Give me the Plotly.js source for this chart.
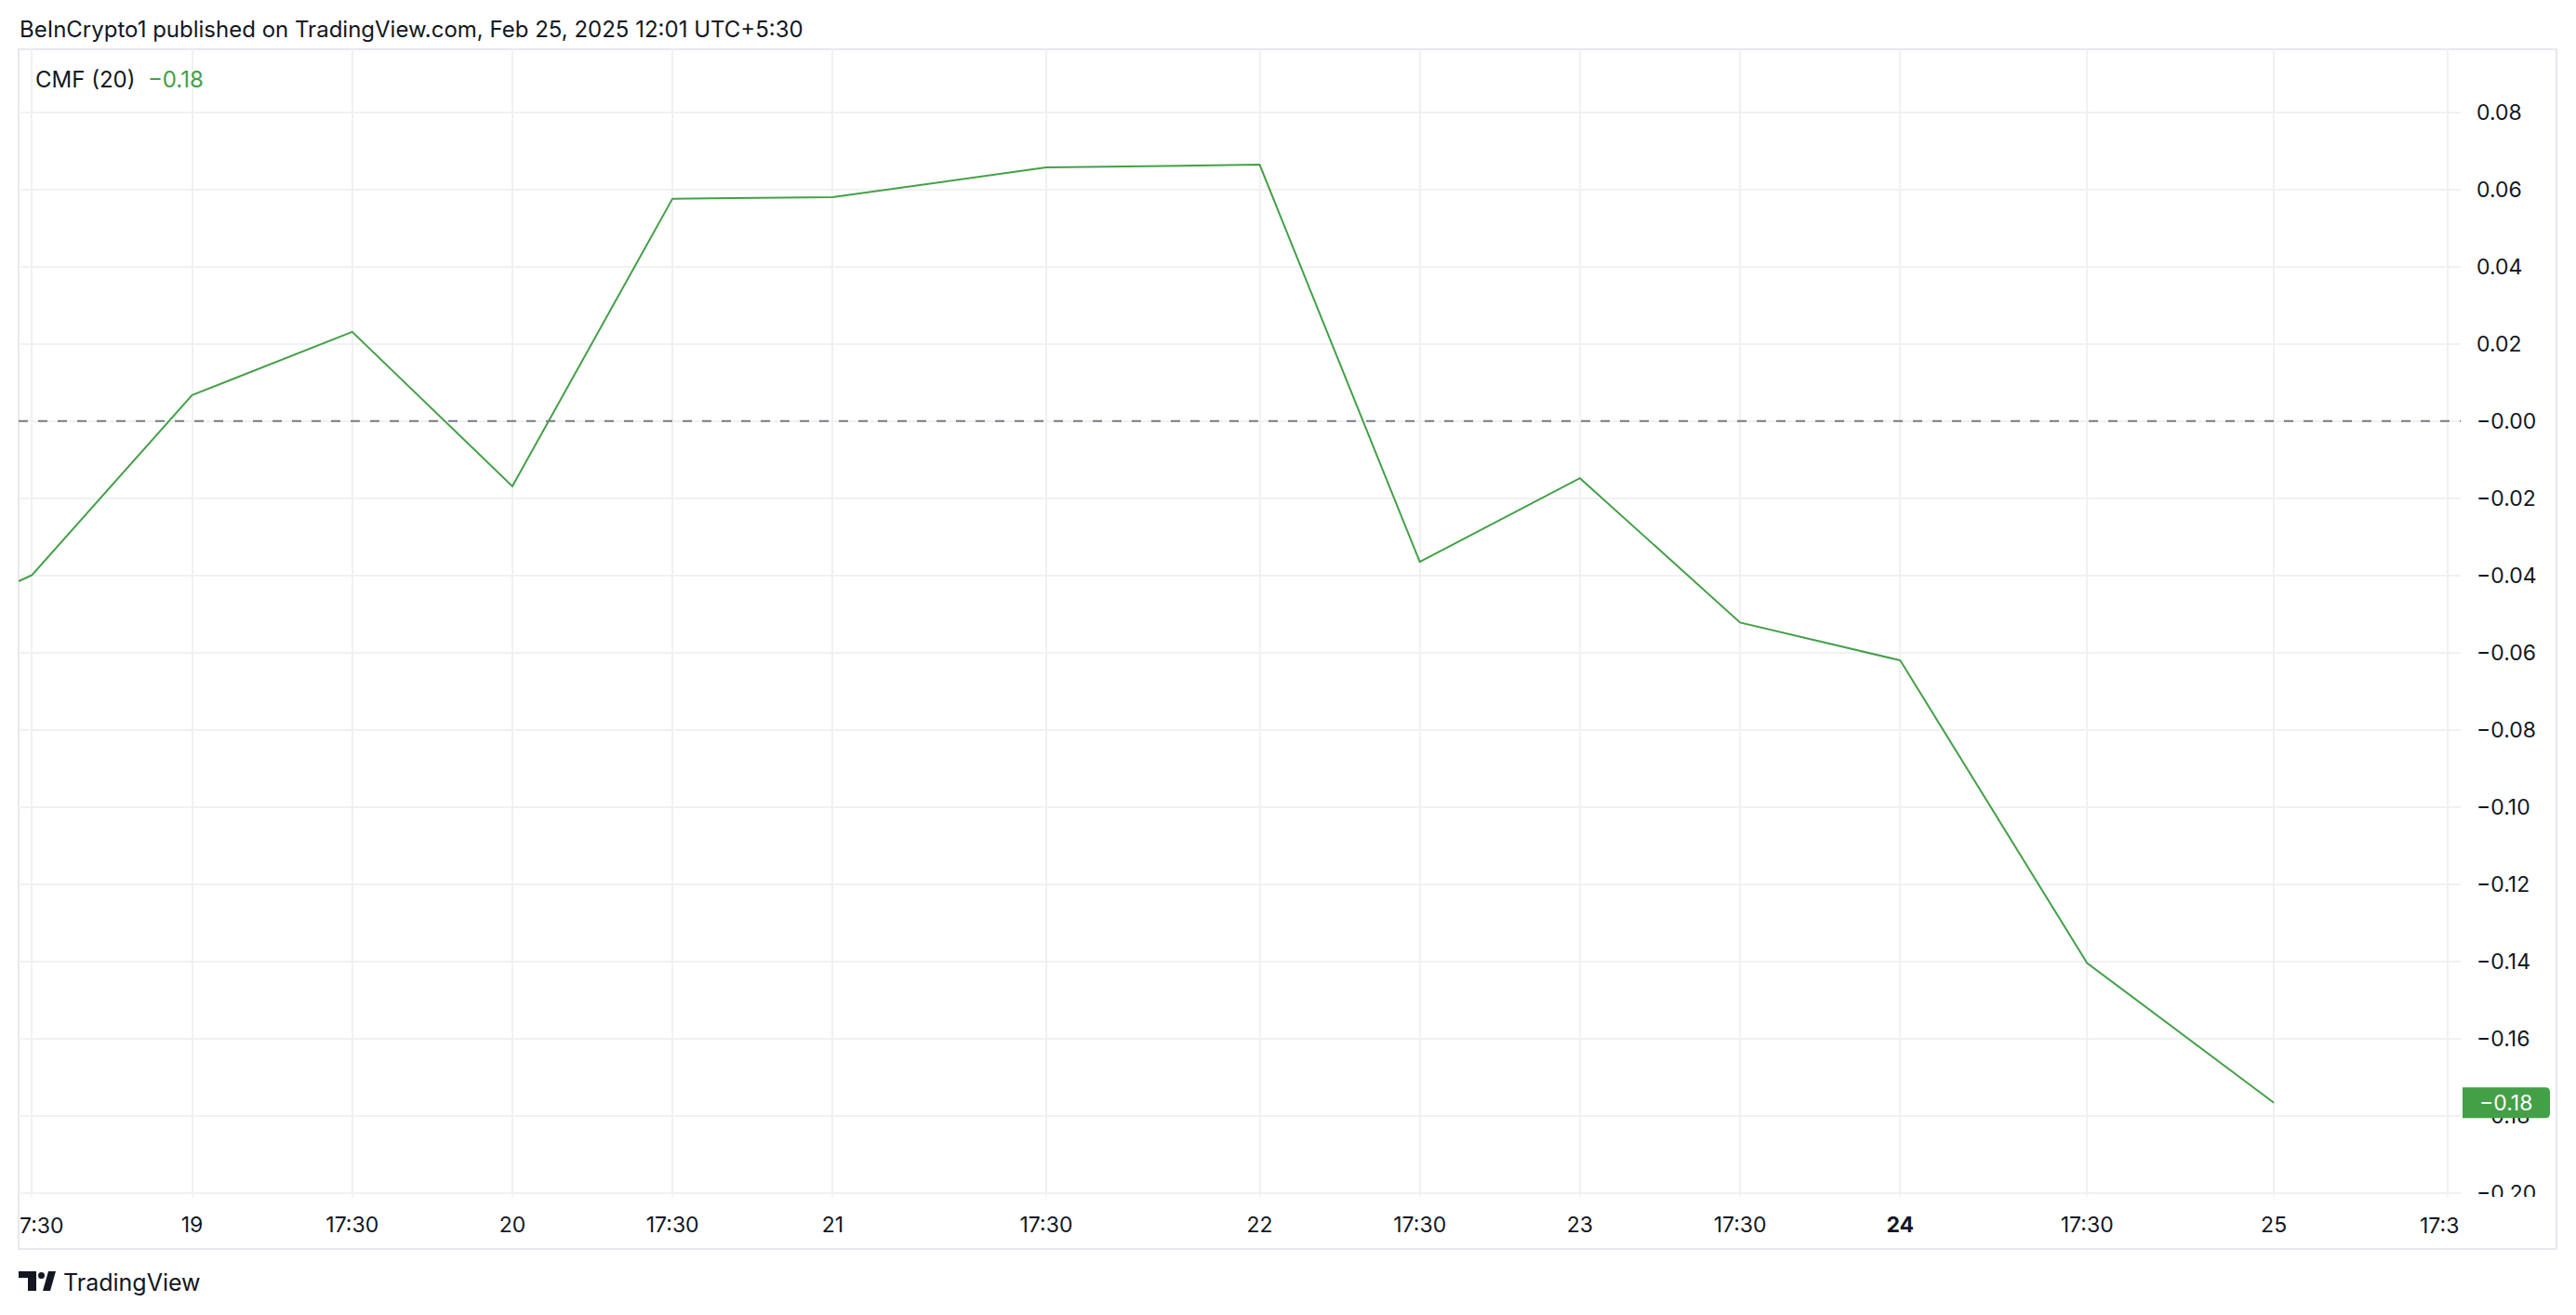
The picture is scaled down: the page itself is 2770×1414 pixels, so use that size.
<!DOCTYPE html>
<html>
<head>
<meta charset="utf-8">
<script src="https://cdn.plot.ly/plotly-3.0.1.min.js"></script>
<style>
html,body{margin:0;padding:0;background:#ffffff;}
#chart{width:2770px;height:1414px;}
</style>
</head>
<body>
<div id="chart"></div>
<script>
// ---- data ----
const barIndex = [-13, -12, 0, 12, 24, 36, 48, 64, 80, 92, 104, 116, 128, 142, 156];
const cmfValues = [-0.0415, -0.0399, 0.0067, 0.0231, -0.0169, 0.0576, 0.0580, 0.0657, 0.0664, -0.0365, -0.0148, -0.0522, -0.0620, -0.1404, -0.1766];

const xTickVals = [-12, 0, 12, 24, 36, 48, 64, 80, 92, 104, 116, 128, 142, 156, 169];
const xTickText = ["", "19", "17:30", "20", "17:30", "21", "17:30", "22", "17:30", "23", "17:30", "<b>24</b>", "17:30", "25", ""];
const xLeftEdgeLabel = "7:30";
const xRightEdgeLabel = "17:3";

const yTickVals = [0.08, 0.06, 0.04, 0.02, 0.00, -0.02, -0.04, -0.06, -0.08, -0.10, -0.12, -0.14, -0.16, -0.18, -0.20];
const yTickText = ["0.08", "0.06", "0.04", "0.02", "\u22120.00", "\u22120.02", "\u22120.04", "\u22120.06", "\u22120.08", "\u22120.10", "\u22120.12", "\u22120.14", "\u22120.16", "\u22120.18", "\u22120.20"];

const headerText = "BeInCrypto1 published on TradingView.com, Feb 25, 2025 12:01 UTC+5:30";
const indicatorName = "CMF (20)";
const brandText = "TradingView";

// ---- styling / layout helpers ----
const FONT = "Inter, 'Noto Sans', 'DejaVu Sans', sans-serif";
const TEXT = "#131722";
const GREEN = "#43a047";
const W = 2770, H = 1414;
const L = 20, R = 2646, T = 53, B = 1287;
const px = x => (x - L) / (R - L);
const py = y => (B - y) / (B - T);

const lastVal = cmfValues[cmfValues.length - 1];
const lastText = lastVal.toFixed(2).replace("-", "\u2212");

const trace = {
  x: barIndex,
  y: cmfValues,
  type: "scatter",
  mode: "lines",
  line: {color: GREEN, width: 2},
  hoverinfo: "skip",
  showlegend: false
};

// badge with rounded right corners
const bx0 = px(2648), bx1 = px(2742);
const bh = 0.00398;
const rx = 5 / (R - L), ry = 5 / 4150;
const by0 = lastVal - bh, by1 = lastVal + bh;
const badgePath = `M ${bx0},${by0} L ${bx1 - rx},${by0} Q ${bx1},${by0} ${bx1},${by0 + ry} L ${bx1},${by1 - ry} Q ${bx1},${by1} ${bx1 - rx},${by1} L ${bx0},${by1} Z`;

const shapes = [
  // outer frame
  {type: "rect", xref: "paper", yref: "paper", x0: px(20), x1: px(2749), y0: py(1343), y1: py(53),
   line: {color: "#e6e8ee", width: 2}, fillcolor: "rgba(0,0,0,0)", layer: "below"},
  // zero reference line
  {type: "line", xref: "paper", yref: "y", x0: 0, x1: 1, y0: 0, y1: 0,
   line: {color: "#787b86", width: 2, dash: "10px,11px"}, layer: "above"},
  // mask clipped bottom axis label
  {type: "rect", xref: "paper", yref: "paper", x0: px(2650), x1: px(2746), y0: py(1300), y1: 0,
   line: {width: 0}, fillcolor: "#ffffff", layer: "above"},
  // last value badge
  {type: "path", xref: "paper", yref: "y", path: badgePath, line: {width: 0}, fillcolor: GREEN, layer: "above"},
  // TradingView logo (approximation)
  {type: "rect", xref: "paper", yref: "paper", x0: px(20), x1: px(39), y0: py(1374), y1: py(1367), line: {width: 0}, fillcolor: "#131722", layer: "above"},
  {type: "rect", xref: "paper", yref: "paper", x0: px(30), x1: px(39), y0: py(1388), y1: py(1367), line: {width: 0}, fillcolor: "#131722", layer: "above"},
  {type: "circle", xref: "paper", yref: "paper", x0: px(41), x1: px(48), y0: py(1375), y1: py(1368), line: {width: 0}, fillcolor: "#131722", layer: "above"},
  {type: "path", xref: "paper", yref: "paper",
   path: `M ${px(46)},${py(1388)} L ${px(54)},${py(1388)} L ${px(60)},${py(1367)} L ${px(52)},${py(1367)} Z`,
   line: {width: 0}, fillcolor: "#131722", layer: "above"}
];

const annotations = [
  {xref: "paper", yref: "paper", x: px(19), y: py(31), xanchor: "left", yanchor: "middle",
   text: headerText, showarrow: false, font: {family: FONT, size: 24, color: TEXT}},
  {xref: "paper", yref: "paper", x: px(36), y: py(86), xanchor: "left", yanchor: "middle",
   text: indicatorName + "  <span style='color:" + GREEN + "'>" + lastText + "</span>",
   showarrow: false, font: {family: FONT, size: 24, color: TEXT}},
  {xref: "paper", yref: "y", x: px(2664), y: lastVal, xanchor: "left", yanchor: "middle",
   text: lastText, showarrow: false, font: {family: FONT, size: 23, color: "#ffffff"}},
  {xref: "paper", yref: "paper", x: px(19), y: py(1318), xanchor: "left", yanchor: "middle",
   text: xLeftEdgeLabel, showarrow: false, font: {family: FONT, size: 23, color: TEXT}},
  {xref: "paper", yref: "paper", x: 1, y: py(1318), xanchor: "right", yanchor: "middle",
   text: xRightEdgeLabel, showarrow: false, font: {family: FONT, size: 23, color: TEXT}},
  {xref: "paper", yref: "paper", x: px(66), y: py(1379), xanchor: "left", yanchor: "middle",
   text: brandText, showarrow: false, font: {family: FONT, size: 25, color: TEXT}}
];

const layout = {
  width: W, height: H,
  margin: {l: L, r: W - R, t: T, b: H - B, pad: 0},
  paper_bgcolor: "#ffffff",
  plot_bgcolor: "#ffffff",
  showlegend: false,
  xaxis: {
    range: [-13, 170],
    tickmode: "array", tickvals: xTickVals, ticktext: xTickText,
    showgrid: true, gridcolor: "#f0f1f3", gridwidth: 2,
    zeroline: false, showline: false, ticks: "",
    ticklabelstandoff: 14,
    tickfont: {family: FONT, size: 23, color: TEXT},
    fixedrange: true
  },
  yaxis: {
    side: "right",
    range: [-0.2010, 0.0963],
    tickmode: "array", tickvals: yTickVals, ticktext: yTickText,
    showgrid: true, gridcolor: "#f0f1f3", gridwidth: 2,
    zeroline: false, showline: false, ticks: "",
    ticklabelstandoff: 16,
    tickfont: {family: FONT, size: 23, color: TEXT},
    fixedrange: true
  },
  shapes: shapes,
  annotations: annotations
};

Plotly.newPlot("chart", [trace], layout, {displayModeBar: false, staticPlot: true});
</script>
</body>
</html>
